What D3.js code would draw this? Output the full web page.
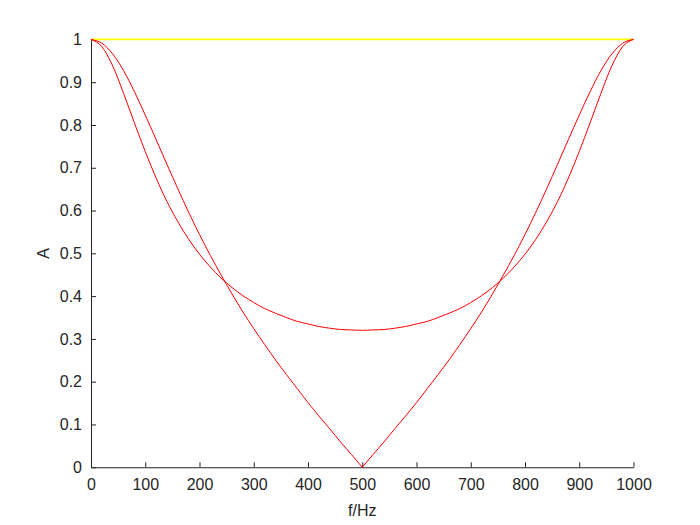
<!DOCTYPE html>
<html>
<head>
<meta charset="utf-8">
<script src="https://cdn.jsdelivr.net/npm/d3@7"></script>
<style>
  body { margin: 0; background: #fff; }
  svg { display: block; font-family: Arial, "Liberation Sans", Helvetica, sans-serif; }
</style>
</head>
<body>
<div id="chart"></div>
<script>
// frequency grid (Hz), read every 20 Hz
const freq = [0, 20, 40, 60, 80, 100, 120, 140, 160, 180, 200, 220, 240, 260, 280, 300, 320, 340, 360, 380, 400, 420, 440, 460, 480, 500,
              520, 540, 560, 580, 600, 620, 640, 660, 680, 700, 720, 740, 760, 780, 800, 820, 840, 860, 880, 900, 920, 940, 960, 980, 1000];

// U-shaped response (minimum ~0.32 at 500 Hz)
const ampU = [1, 0.983, 0.938, 0.874, 0.805, 0.738, 0.676, 0.621, 0.574, 0.533, 0.498, 0.468, 0.442, 0.420, 0.401, 0.385, 0.371, 0.360, 0.350, 0.341, 0.335, 0.329, 0.325, 0.322, 0.321, 0.320,
              0.321, 0.322, 0.325, 0.329, 0.335, 0.341, 0.350, 0.360, 0.371, 0.385, 0.401, 0.420, 0.442, 0.468, 0.498, 0.533, 0.574, 0.621, 0.676, 0.738, 0.805, 0.874, 0.938, 0.983, 1];

// V-shaped response (zero at 500 Hz)
const ampV = [1, 0.991, 0.966, 0.927, 0.878, 0.823, 0.766, 0.708, 0.651, 0.596, 0.544, 0.495, 0.449, 0.405, 0.363, 0.324, 0.287, 0.251, 0.217, 0.184, 0.151, 0.120, 0.090, 0.059, 0.030, 0,
              0.030, 0.059, 0.090, 0.120, 0.151, 0.184, 0.217, 0.251, 0.287, 0.324, 0.363, 0.405, 0.449, 0.495, 0.544, 0.596, 0.651, 0.708, 0.766, 0.823, 0.878, 0.927, 0.966, 0.991, 1];

// flat reference line
const ampFlat = freq.map(() => 1);

const xTicks = [0, 100, 200, 300, 400, 500, 600, 700, 800, 900, 1000];
const yTicks = [0, 0.1, 0.2, 0.3, 0.4, 0.5, 0.6, 0.7, 0.8, 0.9, 1];

const width = 700, height = 525;
const margin = { top: 39.4, right: 66.5, bottom: 57.75, left: 91 };
const innerW = width - margin.left - margin.right;
const innerH = height - margin.top - margin.bottom;
const axisColor = '#262626';

const svg = d3.select('#chart').append('svg')
    .attr('width', width)
    .attr('height', height);

const g = svg.append('g')
    .attr('transform', `translate(${margin.left},${margin.top})`);

const x = d3.scaleLinear().domain([0, 1000]).range([0, innerW]);
const y = d3.scaleLinear().domain([0, 1]).range([innerH, 0]);

// axes, ticks pointing inward like MATLAB
const xAxis = g.append('g')
    .attr('transform', `translate(0,${innerH})`)
    .call(d3.axisBottom(x).tickValues(xTicks).tickSizeInner(-5).tickSizeOuter(0).tickPadding(11).tickFormat(d3.format('d')));

const yAxis = g.append('g')
    .call(d3.axisLeft(y).tickValues(yTicks).tickSizeInner(-5).tickSizeOuter(0).tickPadding(9).tickFormat(d => d === 0 || d === 1 ? d : d.toFixed(1)));

[xAxis, yAxis].forEach(a => {
    a.select('.domain').attr('stroke', axisColor).attr('stroke-width', 1);
    a.selectAll('.tick line').attr('stroke', axisColor).attr('stroke-width', 1);
    a.selectAll('.tick text').attr('fill', axisColor).style('font-size', '16px');
});

const line = d3.line()
    .x((d, i) => x(freq[i]))
    .y(d => y(d));

const smooth = d3.line()
    .x(d => x(d[0]))
    .y(d => y(d[1]))
    .curve(d3.curveMonotoneX);

// yellow flat line at 1
g.append('path')
    .attr('d', line(ampFlat))
    .attr('fill', 'none')
    .attr('stroke', '#ffff00')
    .attr('stroke-width', 1.6);

// U curve
g.append('path')
    .attr('d', smooth(freq.map((f, i) => [f, ampU[i]])))
    .attr('fill', 'none')
    .attr('stroke', '#ff0000')
    .attr('stroke-width', 1);

// V curve: two halves so the notch at 500 Hz stays sharp
const vPts = freq.map((f, i) => [f, ampV[i]]);
const mid = freq.indexOf(500);
[vPts.slice(0, mid + 1), vPts.slice(mid)].forEach(part => {
    g.append('path')
        .attr('d', smooth(part))
        .attr('fill', 'none')
        .attr('stroke', '#ff0000')
        .attr('stroke-width', 1);
});

// axis labels
g.append('text')
    .attr('x', innerW / 2)
    .attr('y', innerH + 49)
    .attr('text-anchor', 'middle')
    .attr('fill', axisColor)
    .style('font-size', '16px')
    .text('f/Hz');

g.append('text')
    .attr('transform', `translate(-42,${innerH / 2}) rotate(-90)`)
    .attr('text-anchor', 'middle')
    .attr('fill', axisColor)
    .style('font-size', '16px')
    .text('A');
</script>
</body>
</html>
